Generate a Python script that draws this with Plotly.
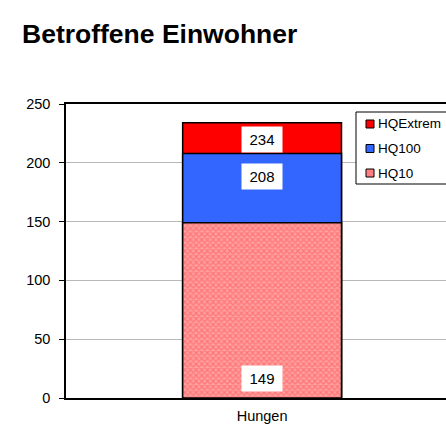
import plotly.graph_objects as go

categories = ["Hungen"]
series_names = ["HQExtrem", "HQ100", "HQ10"]
hqextrem = [234]
hq100 = [208]
hq10 = [149]

colors = {"HQExtrem": "#ff0000", "HQ100": "#3366ff", "HQ10": "#ff8080"}
font_fam = "Liberation Sans, Arial, sans-serif"

fig = go.Figure()
for name, vals in zip(series_names, [hqextrem, hq100, hq10]):
    marker = dict(color=colors[name], line=dict(color="black", width=1.5))
    if name == "HQ10":
        marker["pattern"] = dict(shape="x", fgcolor="#ff4a4a", bgcolor="#ffa0a0",
                                 size=4, solidity=0.5, fillmode="overlay")
    fig.add_trace(go.Bar(x=categories, y=vals, name=name, width=0.405,
                         marker=marker, showlegend=False))

W, H = 446, 437
l, r, t, b = 66, 0, 104, 39
pw, ph = W - l - r, H - t - b

def px(x):
    return (x - l) / pw

def py(y):
    return (H - b - y) / ph

# value labels (white boxes)
label_specs = [(hqextrem[0], "top", -3), (hq100[0], "top", -10), (0, "bottom", 6)]
label_texts = [hqextrem[0], hq100[0], hq10[0]]
for (yv, anch, ys), t_ in zip(label_specs, label_texts):
    fig.add_annotation(x=categories[0], y=yv, xref="x", yref="y", text=str(t_),
                       showarrow=False, yanchor=anch, yshift=ys,
                       bgcolor="white", width=38, height=23,
                       font=dict(family=font_fam, size=15, color="black"))

# legend
fig.add_shape(type="rect", xref="paper", yref="paper",
              x0=px(356), x1=px(460), y0=py(184), y1=py(112),
              line=dict(color="black", width=1), fillcolor="white", layer="above")
for i, name in enumerate(series_names):
    yc = 124 + i * 24.5
    fig.add_shape(type="rect", xref="paper", yref="paper",
                  x0=px(366), x1=px(374), y0=py(yc + 4), y1=py(yc - 4),
                  line=dict(color="black", width=1), fillcolor=colors[name], layer="above")
    fig.add_annotation(x=px(376), y=py(yc), xref="paper", yref="paper", text=name,
                       showarrow=False, xanchor="left", yanchor="middle",
                       font=dict(family=font_fam, size=13.5, color="black"))

fig.update_layout(
    width=W, height=H,
    margin=dict(l=l, r=r, t=t, b=b, pad=0, autoexpand=False),
    barmode="overlay",
    paper_bgcolor="white", plot_bgcolor="white",
    font=dict(family=font_fam, size=14.5, color="black"),
    title=dict(text="<b>Betroffene Einwohner</b>", x=22 / W, xanchor="left",
               xref="container", y=1 - 34 / H, yanchor="middle", yref="container",
               font=dict(family=font_fam, size=26.5, color="black")),
    xaxis=dict(range=[-0.5, 0.469], showline=True, linecolor="black", linewidth=1.5,
               mirror=True, ticks="", showgrid=False, fixedrange=True, automargin=False,
               tickfont=dict(size=14.5), ticklabelstandoff=4),
    yaxis=dict(range=[0, 250], dtick=50, showline=True, linecolor="black", linewidth=1.5,
               ticks="outside", ticklen=5, tickcolor="black", showgrid=True,
               gridcolor="#b8b8b8", gridwidth=1, zeroline=False, automargin=False,
               tickfont=dict(size=14.5), ticklabelstandoff=6),
)

fig.write_html(
    "out.html",
    config={"displayModeBar": False},
    post_script="document.documentElement.style.overflow='hidden';"
                "document.body.style.margin='0';",
)
